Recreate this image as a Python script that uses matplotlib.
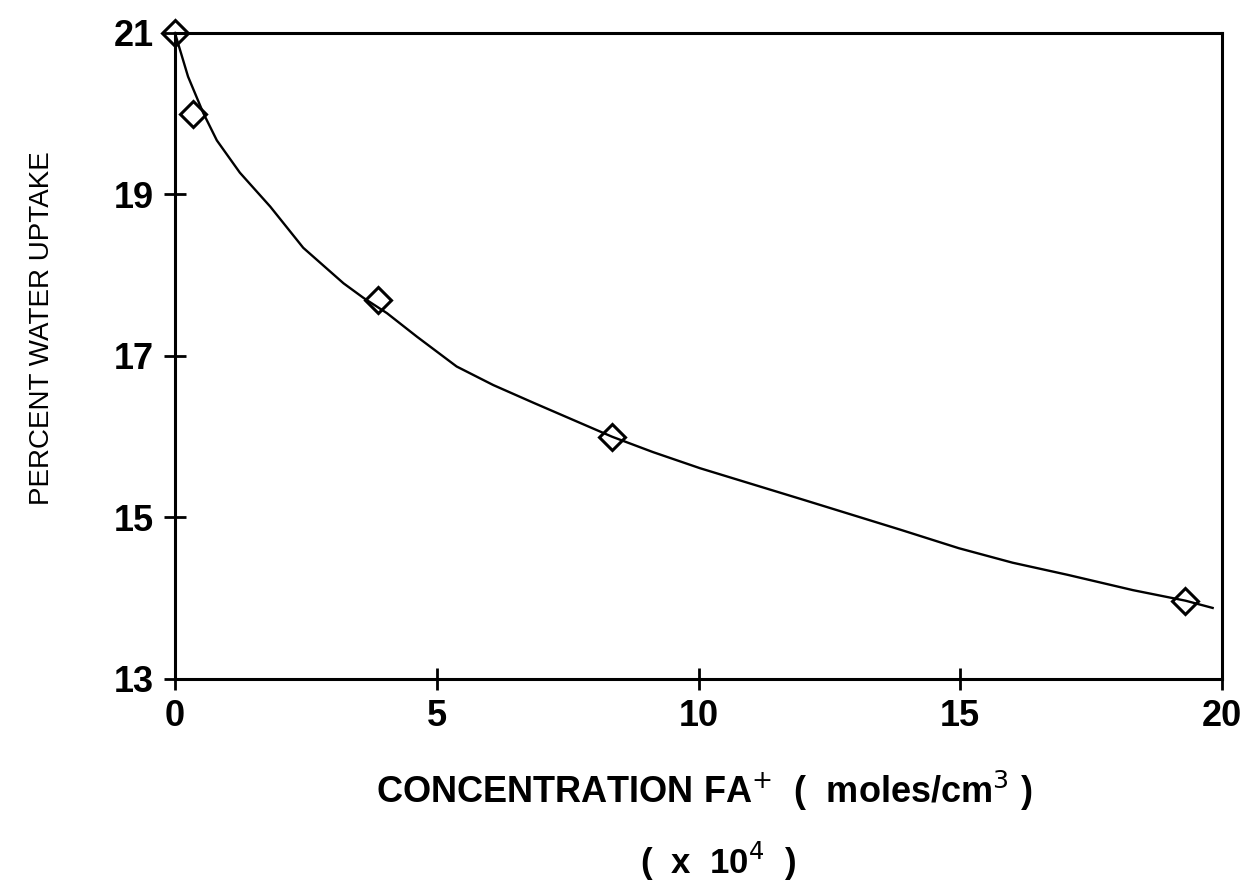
import matplotlib.pyplot as plt

plt.rcParams['font.family'] = ['Liberation Sans', 'DejaVu Sans']

# measured points
conc = [0.0, 0.35, 3.88, 8.35, 19.3]
uptake = [21.0, 20.0, 17.69, 16.0, 13.97]

# fitted curve
curve_x = [0.0, 0.25, 0.54, 0.80, 1.24, 1.82, 2.45, 3.22, 3.60, 4.05, 4.62, 5.38, 6.08, 6.85, 7.60,
           8.35, 9.13, 10.03, 12.0, 13.85, 14.97, 16.0, 17.05, 18.3, 19.3, 19.82]
curve_y = [21.0, 20.46, 20.01, 19.67, 19.27, 18.85, 18.34, 17.90, 17.72, 17.53, 17.24, 16.87, 16.64, 16.42, 16.21,
           16.0, 15.81, 15.61, 15.22, 14.85, 14.62, 14.44, 14.29, 14.10, 13.97, 13.88]

xticks = [0, 5, 10, 15, 20]
yticks = [13, 15, 17, 19, 21]

fig = plt.figure(figsize=(12.47, 8.94), dpi=100)
ax = fig.add_axes([0.1403, 0.2405, 0.8397, 0.7226])

ax.plot(curve_x, curve_y, color='black', lw=1.7, clip_on=False, zorder=2)
ax.plot(conc, uptake, ls='none', marker='D', markersize=13, markerfacecolor='none',
        markeredgecolor='black', markeredgewidth=2.2, clip_on=False, zorder=3)

ax.set_xlim(0, 20)
ax.set_ylim(13, 21)
ax.set_xticks(xticks)
ax.set_yticks(yticks)
ax.tick_params(direction='inout', length=16.5, width=2, labelsize=26, pad=7)
ax.tick_params(axis='x', pad=6)
for lab in ax.get_xticklabels() + ax.get_yticklabels():
    lab.set_fontweight('bold')
for s in ax.spines.values():
    s.set_linewidth(2.2)

fig.text(0.5646, 0.102, r'CONCENTRATION FA$^{+}$  (  moles/cm$^{3}$ )', ha='center', va='baseline',
         fontsize=26, fontweight='bold')
fig.text(0.5758, 0.022, r'(  x  10$^{4}$  )', ha='center', va='baseline', fontsize=25, fontweight='bold')
fig.text(0.0337, 0.633, 'PERCENT WATER UPTAKE', rotation=90, ha='center', va='center', fontsize=20)

fig.savefig('out.png', dpi=100)
